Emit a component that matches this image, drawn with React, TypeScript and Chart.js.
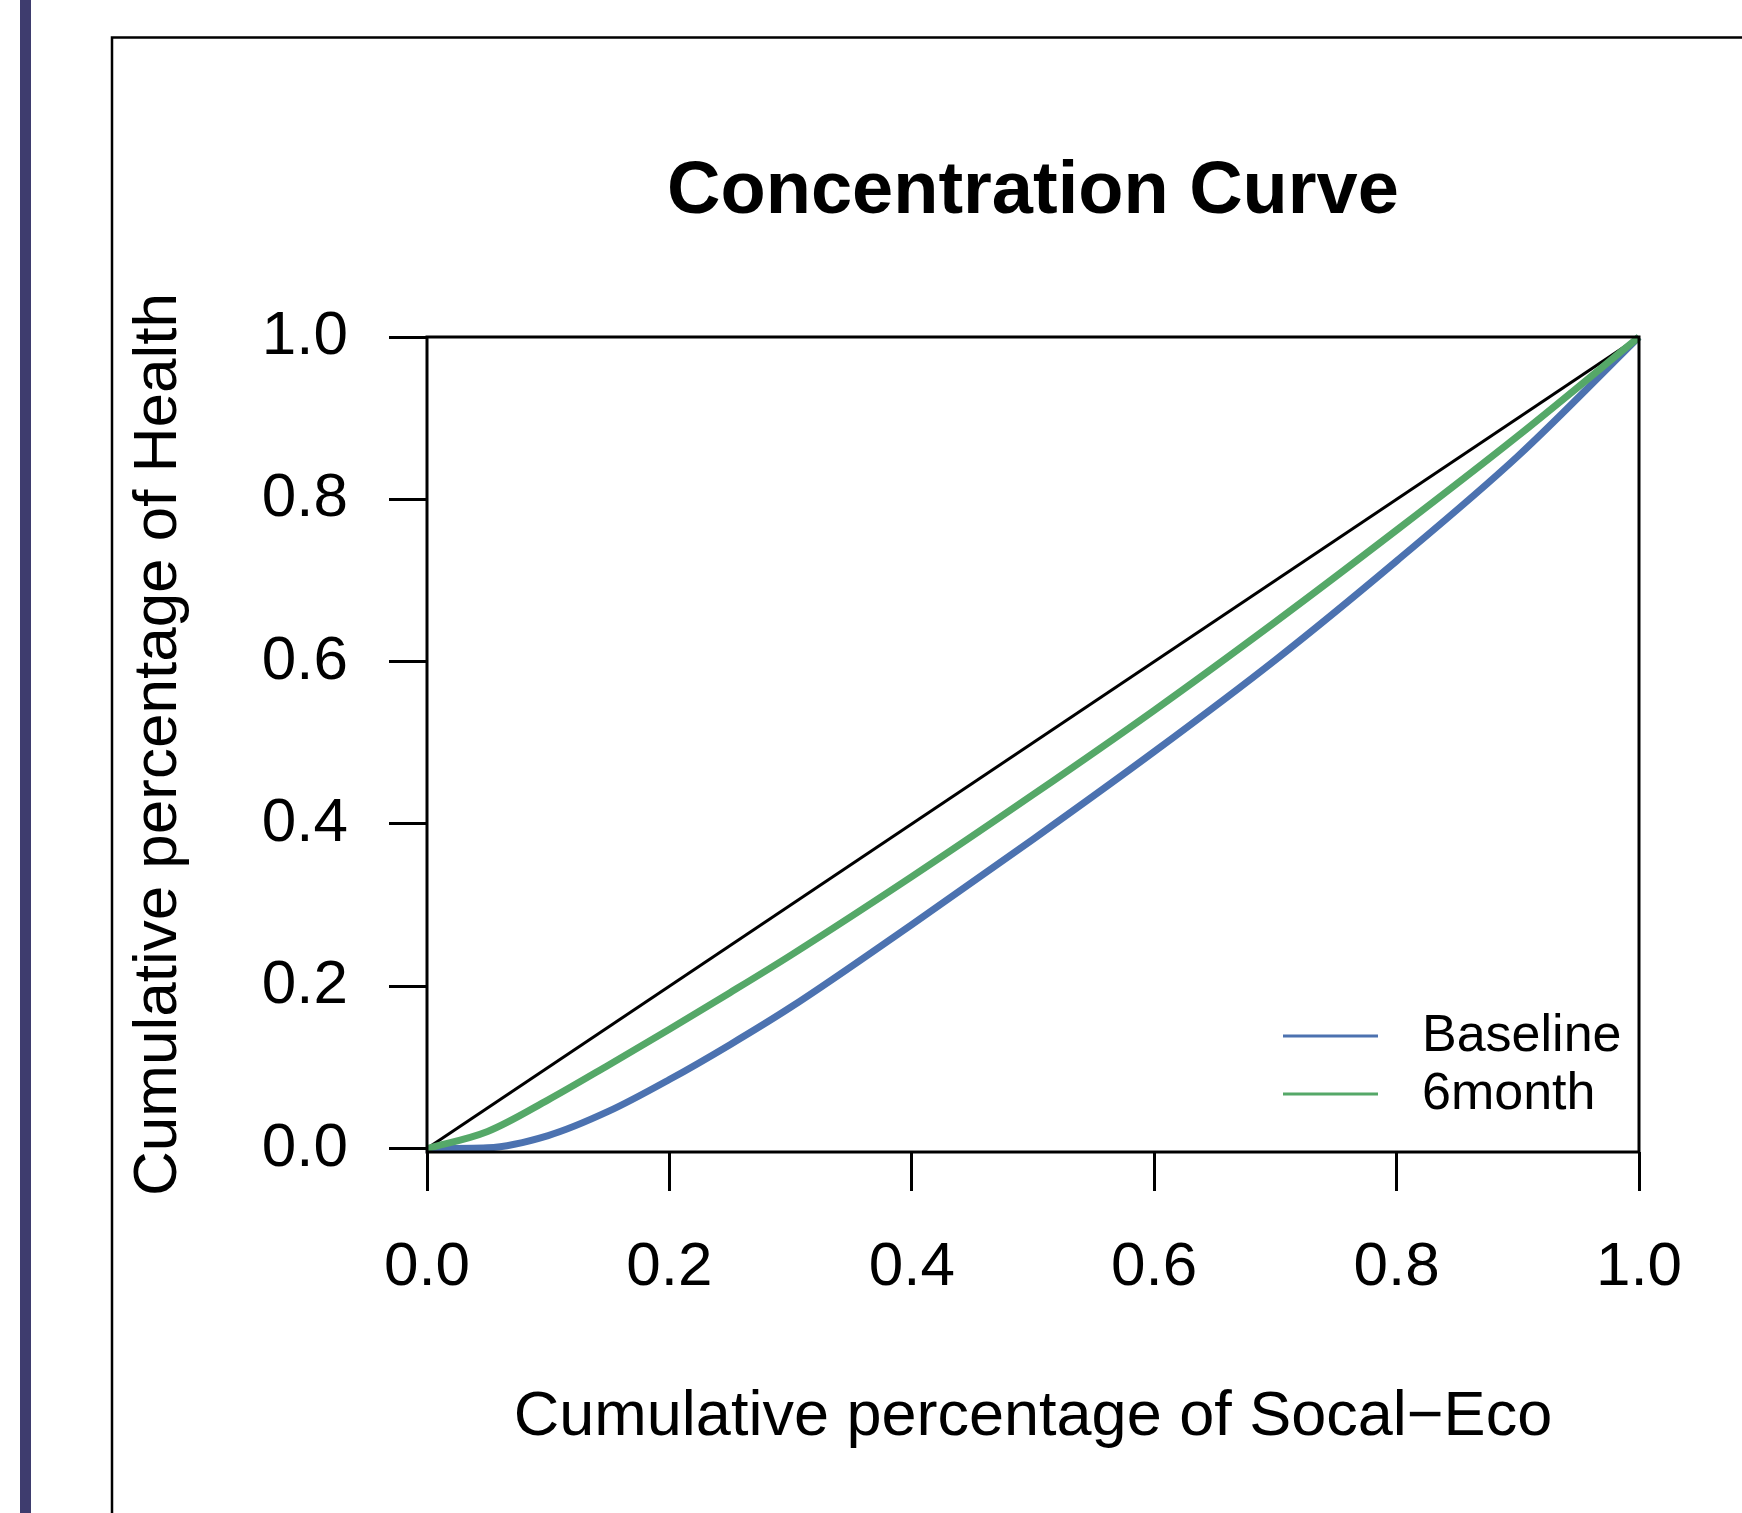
import React, { useEffect, useRef } from "react";
import { Chart, registerables } from "chart.js";

Chart.register(...registerables);

const FONT = "'Liberation Sans', Arial, Helvetica, sans-serif";

const TITLE = "Concentration Curve";
const X_TITLE = "Cumulative percentage of Socal\u2212Eco";
const Y_TITLE = "Cumulative percentage of Health";

const X_TICKS = [0, 0.2, 0.4, 0.6, 0.8, 1.0];
const Y_TICKS = [0, 0.2, 0.4, 0.6, 0.8, 1.0];

const BASELINE_X = [0, 0.05, 0.1, 0.15, 0.2, 0.25, 0.3, 0.4, 0.5, 0.6, 0.7, 0.8, 0.9, 1.0];
const BASELINE_Y = [0, 0.001, 0.016, 0.046, 0.085, 0.128, 0.174, 0.276, 0.381, 0.489, 0.602, 0.724, 0.853, 1.0];

const SIXMONTH_X = [0, 0.05, 0.1, 0.15, 0.2, 0.25, 0.3, 0.4, 0.5, 0.6, 0.7, 0.8, 0.9, 1.0];
const SIXMONTH_Y = [0, 0.021, 0.06, 0.103, 0.147, 0.192, 0.238, 0.335, 0.436, 0.54, 0.649, 0.762, 0.878, 1.0];

const EQUALITY_X = [0, 1];
const EQUALITY_Y = [0, 1];

const zip = (xs: number[], ys: number[]) => xs.map((x, i) => ({ x, y: ys[i] }));

export default function App() {
  const ref = useRef<HTMLCanvasElement>(null);

  useEffect(() => {
    const canvas = ref.current;
    if (!canvas) return;

    const decor = {
      id: "decor",
      beforeDraw(chart: any) {
        const { ctx, width, height } = chart;
        ctx.save();
        ctx.fillStyle = "#ffffff";
        ctx.fillRect(0, 0, width, height);
        ctx.fillStyle = "#3E3C6E";
        ctx.fillRect(20, 0, 11, height);
        ctx.strokeStyle = "#000";
        ctx.lineWidth = 2.5;
        ctx.beginPath();
        ctx.moveTo(112, height + 5);
        ctx.lineTo(112, 37.5);
        ctx.lineTo(width + 5, 37.5);
        ctx.stroke();
        ctx.restore();
      },
      afterDraw(chart: any) {
        const { ctx, chartArea: a } = chart;
        ctx.save();
        ctx.strokeStyle = "#000";
        ctx.lineWidth = 3;
        ctx.strokeRect(a.left, a.top, a.right - a.left, a.bottom - a.top);

        // legend
        const items = chart.data.datasets.slice(0, 2);
        const ys = [1036, 1094];
        ctx.font = `52px ${FONT}`;
        ctx.textBaseline = "middle";
        ctx.textAlign = "left";
        items.forEach((ds: any, i: number) => {
          ctx.strokeStyle = ds.borderColor;
          ctx.lineWidth = 3;
          ctx.beginPath();
          ctx.moveTo(1283, ys[i]);
          ctx.lineTo(1378, ys[i]);
          ctx.stroke();
          ctx.fillStyle = "#000";
          ctx.fillText(ds.label, 1422, ys[i] + 1);
        });
        ctx.restore();
      },
    };

    const chart = new Chart(canvas, {
      type: "scatter",
      data: {
        datasets: [
          {
            label: "Baseline",
            data: zip(BASELINE_X, BASELINE_Y),
            showLine: true,
            borderColor: "#4C72B0",
            backgroundColor: "#4C72B0",
            borderWidth: 7,
            pointRadius: 0,
            cubicInterpolationMode: "monotone",
            order: 1,
            clip: false,
          },
          {
            label: "6month",
            data: zip(SIXMONTH_X, SIXMONTH_Y),
            showLine: true,
            borderColor: "#55A868",
            backgroundColor: "#55A868",
            borderWidth: 7,
            pointRadius: 0,
            cubicInterpolationMode: "monotone",
            order: 0,
            clip: false,
          },
          {
            label: "Equality",
            data: zip(EQUALITY_X, EQUALITY_Y),
            showLine: true,
            borderColor: "#000000",
            backgroundColor: "#000000",
            borderWidth: 3,
            pointRadius: 0,
            order: 2,
            clip: false,
          },
        ],
      } as any,
      options: {
        responsive: false,
        animation: false,
        devicePixelRatio: 1,
        layout: { padding: { left: 0, right: 103, top: 0, bottom: 0 } },
        plugins: {
          legend: { display: false },
          tooltip: { enabled: false },
          title: {
            display: true,
            text: TITLE,
            fullSize: false,
            color: "#000",
            font: { family: FONT, size: 74, weight: "bold" },
            padding: { top: 148, bottom: 100.2 },
          },
        },
        scales: {
          x: {
            type: "linear",
            min: 0,
            max: 1,
            afterBuildTicks: (scale: any) => {
              scale.ticks = X_TICKS.map((value) => ({ value }));
            },
            afterFit: (scale: any) => {
              scale.height = 361;
            },
            ticks: {
              color: "#000",
              font: { family: FONT, size: 62 },
              padding: 40,
              maxRotation: 0,
              autoSkip: false,
              callback: (v: any) => Number(v).toFixed(1),
            },
            grid: {
              display: true,
              drawOnChartArea: false,
              drawTicks: true,
              tickLength: 39,
              color: "#000",
              lineWidth: 3,
            },
            border: { display: false },
            title: {
              display: true,
              text: X_TITLE,
              color: "#000",
              font: { family: FONT, size: 63 },
              padding: { top: 0, bottom: 58 },
            },
          },
          y: {
            type: "linear",
            min: -0.0043,
            max: 1,
            afterBuildTicks: (scale: any) => {
              scale.ticks = Y_TICKS.map((value) => ({ value }));
            },
            afterFit: (scale: any) => {
              scale.width = 427;
            },
            ticks: {
              color: "#000",
              font: { family: FONT, size: 62 },
              padding: 41,
              autoSkip: false,
              callback: (v: any) => Number(v).toFixed(1),
            },
            grid: {
              display: true,
              drawOnChartArea: false,
              drawTicks: true,
              tickLength: 38,
              color: "#000",
              lineWidth: 3,
            },
            border: { display: false },
            title: {
              display: true,
              text: Y_TITLE,
              color: "#000",
              font: { family: FONT, size: 62 },
              padding: { top: 122, bottom: 0 },
            },
          },
        },
      } as any,
      plugins: [decor],
    });

    return () => chart.destroy();
  }, []);

  return (
    <div style={{ position: "absolute", left: 0, top: 0, width: 1742, height: 1513 }}>
      <canvas ref={ref} width={1742} height={1513} style={{ display: "block", width: 1742, height: 1513 }} />
    </div>
  );
}
